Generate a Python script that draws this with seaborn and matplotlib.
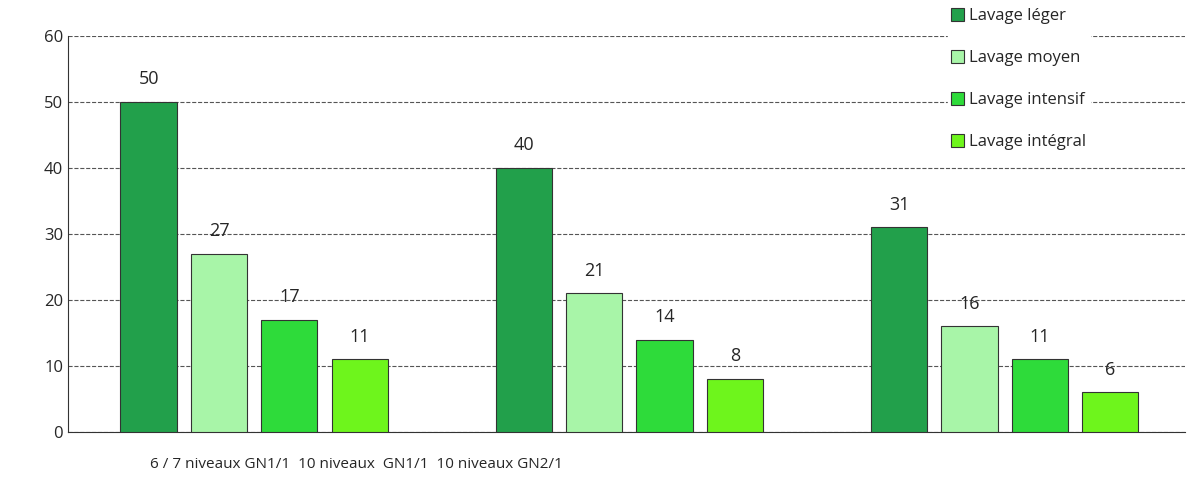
import matplotlib
matplotlib.use("Agg")
import matplotlib.pyplot as plt
import seaborn as sns
import pandas as pd

groups = ["6 / 7 niveaux GN1/1", "10 niveaux  GN1/1", "10 niveaux GN2/1"]
series = ["Lavage léger", "Lavage moyen", "Lavage intensif", "Lavage intégral"]
values = {
    "Lavage léger": [50, 40, 31],
    "Lavage moyen": [27, 21, 16],
    "Lavage intensif": [17, 14, 11],
    "Lavage intégral": [11, 8, 6],
}
colors = ["#22A04B", "#A8F5A8", "#2EDB3A", "#6EF51C"]

rows = [(g, s, values[s][i]) for s in series for i, g in enumerate(groups)]
df = pd.DataFrame(rows, columns=["group", "series", "value"])

sns.set_style("white")
plt.rcParams["font.family"] = ["Open Sans", "DejaVu Sans"]

fig = plt.figure(figsize=(12.01, 4.79), dpi=100)
ax = fig.add_axes([0.0566, 0.098, 0.930, 0.827])
sns.barplot(data=df, x="group", y="value", hue="series", hue_order=series,
            palette=colors, saturation=1, width=0.75, gap=0.2,
            edgecolor="#333333", linewidth=0.8, ax=ax, zorder=3)
for c in ax.containers:
    ax.bar_label(c, padding=10, fontsize=13)

ax.set_ylim(0, 60)
ax.set_xlim(-0.496, 2.48)
ax.set_yticks(range(0, 61, 10))
ax.tick_params(axis="y", labelsize=12, length=0)
ax.set_xticks([])
ax.set_xlabel("")
ax.set_ylabel("")
ax.yaxis.grid(True, linestyle="--", color="#555555", linewidth=0.8, zorder=0)
for sp in ["top", "right"]:
    ax.spines[sp].set_visible(False)
ax.spines["left"].set_color("#333333")
ax.spines["bottom"].set_color("#333333")

fig.text(150 / 1201, 1 - 465 / 479, "  ".join(groups), fontsize=11, va="center")

leg = ax.legend(loc="upper left", bbox_to_anchor=(0.78, 1.1), frameon=True,
                facecolor="white", edgecolor="white", framealpha=1,
                fontsize=12, labelspacing=1.55, handlelength=0.8,
                handleheight=0.8, handletextpad=0.3, borderpad=0.2)
for h in leg.legend_handles:
    h.set_edgecolor("#333333")
leg.set_zorder(5)

fig.savefig("out.png", dpi=100)
